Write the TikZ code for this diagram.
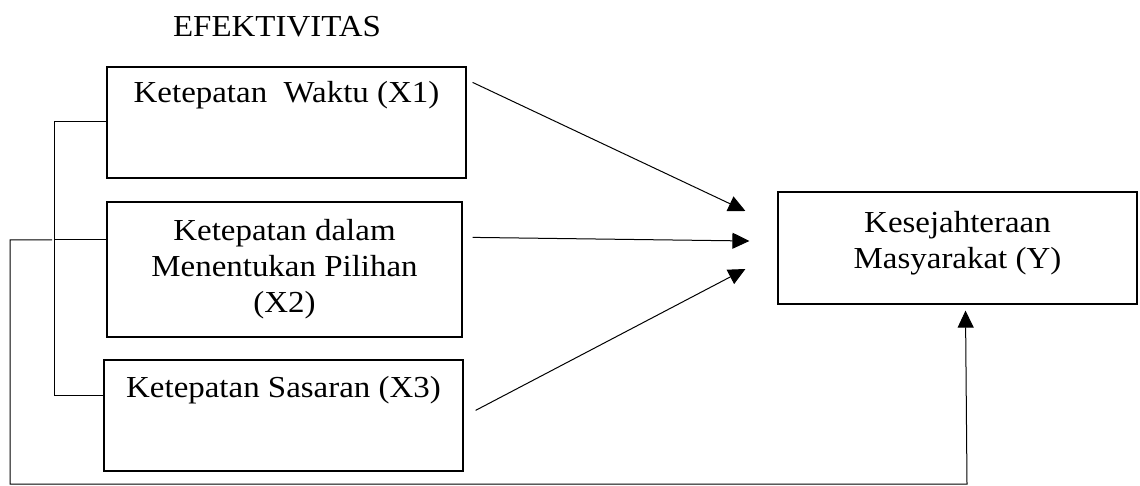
\documentclass[tikz,border=0pt]{standalone}
\usepackage{fontspec}
\setmainfont{Liberation Serif}
\usetikzlibrary{arrows.meta}
\tikzset{
  kotak/.style={draw, line width=1.2pt, inner sep=0pt},
  teks/.style={anchor=north, align=center, inner sep=0pt, transform shape, xscale=1.08,
    font=\fontsize{30.5}{36}\selectfont},
  garis/.style={line width=1pt},
  panah/.style={line width=1pt, -{Triangle[length=17pt,width=16pt]}}
}
\begin{document}
\begin{tikzpicture}[x=1pt,y=-1pt]
        \useasboundingbox (0,0) rectangle (1140,486);
        % Judul
        \node[teks, anchor=base] (judul) at (277,37) {EFEKTIVITAS};
        % Kotak X1, X2, X3
        \node[kotak, minimum width=359pt, minimum height=111pt] (x1) at (286.5,122.5) {};
        \node[kotak, minimum width=355pt, minimum height=135pt] (x2) at (284.5,269.5) {};
        \node[kotak, minimum width=359pt, minimum height=111pt] (x3) at (283.5,415.5) {};
        % Kotak Y
        \node[kotak, minimum width=359pt, minimum height=112pt] (y) at (957.5,248) {};
        % Teks dalam kotak
        \node[teks] (t1) at ([yshift=-15pt]x1.north) {Ketepatan~~Waktu (X1)};
        \node[teks] (t2) at ([yshift=-18pt]x2.north) {Ketepatan dalam\\Menentukan Pilihan\\(X2)};
        \node[teks] (t3) at ([yshift=-17pt]x3.north) {Ketepatan Sasaran (X3)};
        \node[teks] (ty) at ([yshift=-20pt]y.north) {Kesejahteraan\\Masyarakat (Y)};
        % Kurung kiri
        \coordinate (ka) at (54,122);
        \coordinate (kb) at (54,240);
        \coordinate (kc) at (54,395);
        \draw[garis] (x1.west |- ka) -- (ka) -- (kc) -- (x3.west |- kc);
        \draw[garis] (kb) -- (x2.west |- kb);
        % Panah X -> Y
        \draw[panah] ([xshift=6pt,yshift=-16pt]x1.north east) -- ([xshift=-32pt,yshift=37pt]y.west);
        \draw[panah] ([xshift=10pt,yshift=-36pt]x2.north east) -- ([xshift=-28pt,yshift=7pt]y.west);
        \draw[panah] ([xshift=12pt,yshift=-51pt]x3.north east) -- ([xshift=-32pt,yshift=-21pt]y.west);
        % Garis bawah ke Y
        \coordinate (lb) at (10,484);
        \coordinate (lc) at (967,484);
        \draw[panah] ([xshift=-2pt]kb) -| (lb) -- (lc) -- ([xshift=8pt,yshift=-6pt]y.south);
\end{tikzpicture}
\end{document}
